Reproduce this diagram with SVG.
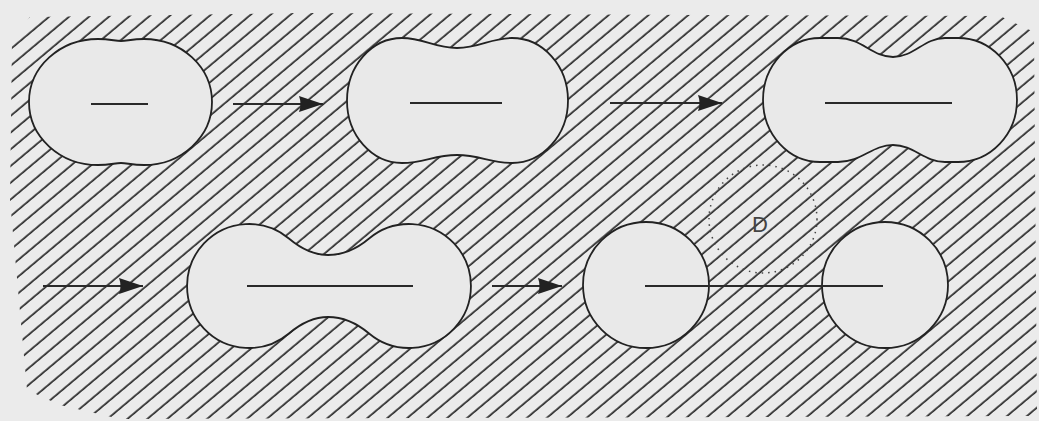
<svg xmlns="http://www.w3.org/2000/svg" width="1039" height="421" viewBox="0 0 1039 421">
  <defs>
    <pattern id="hatch" patternUnits="userSpaceOnUse" width="200" height="12.8" patternTransform="rotate(-40)">
      <line x1="0" y1="6" x2="200" y2="6" stroke="#2b2b2b" stroke-width="1.7"/>
    </pattern>
    <clipPath id="hclip">
      <path d="M12,40 L30,17 L300,13 L700,15 L1000,16 L1034,32 L1037,416 L120,419 L60,405 L27,390 L10,200 Z"/>
    </clipPath>
    <marker id="ah" markerUnits="userSpaceOnUse" markerWidth="26" markerHeight="18" refX="24" refY="8" orient="auto">
      <path d="M0,0 L24,8 L0,16 Q3,8 0,0 Z" fill="#222"/>
    </marker>
    <style>
      .blob { fill: #e9e9e9; stroke: #222; stroke-width: 1.8; }
      .bar { stroke: #2a2a2a; stroke-width: 2.2; }
      .arrow { stroke: #2a2a2a; stroke-width: 2; fill: none; }
      .dot { fill: none; stroke: #444; stroke-width: 1.5; stroke-dasharray: 1.5 5; }
      .lbl { font-family: "Liberation Sans", Arial, sans-serif; font-size: 22px; fill: #444; }
    </style>
  </defs>

  <rect x="0" y="0" width="1039" height="421" fill="#ebebeb"/>
  <g id="hatching" clip-path="url(#hclip)">
    <rect x="0" y="0" width="1039" height="421" fill="url(#hatch)"/>
  </g>

  <g id="stage1">
    <path class="blob" d="M98,39 C110,39 115,41 121,41 C127,41 132,39 144,39 A68,63 0 0 1 144,165 C132,165 127,163 121,163 C115,163 110,165 98,165 A69,63 0 0 1 98,39 Z"/>
    <line class="bar" x1="91" y1="104" x2="148" y2="104"/>
  </g>

  <g id="stage2">
    <path class="blob" d="M402,38 C424,38 434,48 457,48 C480,48 490,38 512,38 A56,62.5 0 0 1 512,163 C490,163 480,155 457,155 C434,155 424,163 402,163 A55,62.5 0 0 1 402,38 Z"/>
    <line class="bar" x1="410" y1="103" x2="502" y2="103"/>
  </g>

  <g id="stage3">
    <path class="blob" d="M820,38 L838,38 C862,38 872,57 893,57 C914,57 924,38 945,38 L958,38 A59,62 0 0 1 958,162 L945,162 C924,162 914,145 893,145 C872,145 862,162 838,162 L820,162 A57,62 0 0 1 820,38 Z"/>
    <line class="bar" x1="825" y1="103" x2="952" y2="103"/>
  </g>

  <g id="stage4">
    <path class="blob" d="M288.9,238.5 C302.7,250.1 315,255 328,255 C341,255 355.3,250.1 369.1,238.5 A62,62 0 1 1 369.1,333.5 C355.3,321.9 341,317 328,317 C315,317 302.7,321.9 288.9,333.5 A62,62 0 1 1 288.9,238.5 Z"/>
    <line class="bar" x1="247" y1="286" x2="413" y2="286"/>
  </g>

  <g id="stage5-left">
    <circle class="blob" cx="646" cy="285" r="63"/>
  </g>

  <g id="stage5-right">
    <circle class="blob" cx="885" cy="285" r="63"/>
  </g>

  <g id="distance-D">
    <circle class="dot" cx="763" cy="219" r="54"/>
    <text class="lbl" x="760" y="232" text-anchor="middle">D</text>
  </g>

  <g id="connectors">
    <line class="arrow" x1="233" y1="104" x2="323" y2="104" marker-end="url(#ah)"/>
    <line class="arrow" x1="610" y1="103" x2="722" y2="103" marker-end="url(#ah)"/>
    <line class="arrow" x1="43" y1="286" x2="143" y2="286" marker-end="url(#ah)"/>
    <line class="arrow" x1="492" y1="286" x2="562" y2="286" marker-end="url(#ah)"/>
    <line class="bar" x1="645" y1="286" x2="883" y2="286"/>
  </g>
</svg>
